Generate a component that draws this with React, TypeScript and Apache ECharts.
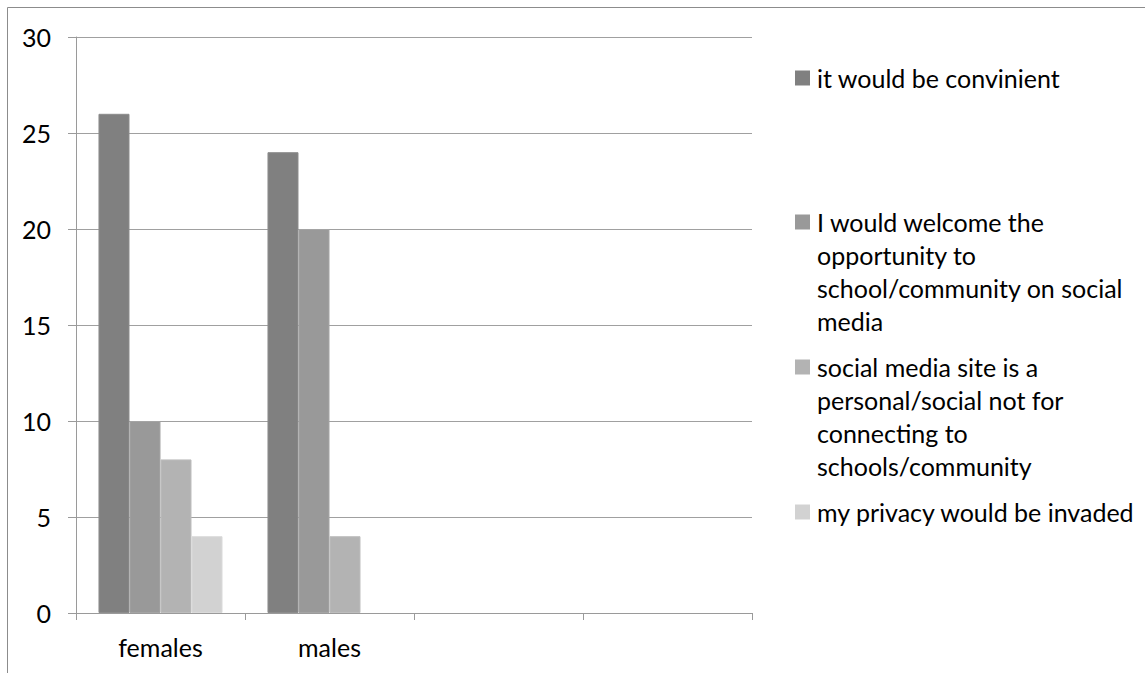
import React, { useEffect, useRef } from "react";
import * as echarts from "echarts";

const categories = ["females", "males", "", ""];
const seriesNames = [
  "it would be convinient",
  "I would welcome the opportunity to school/community on social media",
  "social media site is a personal/social not for connecting to schools/community",
  "my privacy would be invaded",
];
const legendLines = [
  ["it would be convinient"],
  ["I would welcome the", "opportunity to", "school/community on social", "media"],
  ["social media site is a", "personal/social not for", "connecting to", "schools/community"],
  ["my privacy would be invaded"],
];
const convenient = [26, 24, null, null];
const welcome = [10, 20, null, null];
const personal = [8, 4, null, null];
const privacy = [4, null, null, null];
const seriesData = [convenient, welcome, personal, privacy];
const colors = ["#808080", "#999999", "#b3b3b3", "#d2d2d2"];
const borderColors = ["#8c8c8c", "#a4a4a4", "#bdbdbd", "#dadada"];
const yTicks = { min: 0, max: 30, interval: 5 };

const FONT = "Lato, 'Noto Sans', sans-serif";
const FS = 25;

export default function App() {
  const ref = useRef<HTMLDivElement>(null);
  useEffect(() => {
    document.body.style.margin = "0";
    const chart = echarts.init(ref.current!, null, { renderer: "svg" });
    const legendY = [78, 222, 367, 512];
    const graphic: any[] = [
      {
        type: "rect",
        shape: { x: 7.5, y: 7.5, width: 2000, height: 2000 },
        style: { fill: "none", stroke: "#8c8c8c", lineWidth: 1 },
        silent: true,
      },
    ];
    legendLines.forEach((lines, i) => {
      graphic.push({
        type: "rect",
        shape: { x: 795, y: legendY[i] - 7.5, width: 15, height: 15 },
        style: { fill: colors[i] },
      });
      graphic.push({
        type: "text",
        x: 817,
        y: legendY[i] - 16.5,
        style: {
          text: lines.join("\n"),
          font: `${FS}px ${FONT}`,
          fill: "#000",
          lineHeight: 33,
          textAlign: "left",
          textVerticalAlign: "top",
        },
      });
    });
    chart.setOption({
      animation: false,
      backgroundColor: "#fff",
      grid: { left: 76, top: 37, right: 393, bottom: 60, containLabel: false },
      legend: { show: false },
      xAxis: {
        type: "category",
        data: categories,
        axisLine: { show: true, lineStyle: { color: "#9a9a9a", width: 1 } },
        axisTick: { show: true, length: 7, alignWithLabel: false, lineStyle: { color: "#9a9a9a" } },
        axisLabel: { fontFamily: FONT, fontSize: FS, color: "#000", margin: 21 },
        splitLine: { show: false },
      },
      yAxis: {
        type: "value",
        min: yTicks.min,
        max: yTicks.max,
        interval: yTicks.interval,
        axisLine: { show: true, lineStyle: { color: "#9a9a9a", width: 1 } },
        axisTick: { show: true, inside: false, length: 8, lineStyle: { color: "#9a9a9a" } },
        axisLabel: { fontFamily: FONT, fontSize: FS, color: "#000", margin: 25 },
        splitLine: { show: true, lineStyle: { color: "#a0a0a0", width: 1 } },
      },
      series: seriesData.map((d, i) => ({
        name: seriesNames[i],
        type: "bar",
        data: d,
        barGap: "0%",
        barCategoryGap: "26.6%",
        itemStyle: { color: colors[i], borderColor: borderColors[i], borderWidth: 1 },
      })),
      graphic,
    });
    return () => chart.dispose();
  }, []);
  return <div ref={ref} style={{ width: 1145, height: 673 }} />;
}
